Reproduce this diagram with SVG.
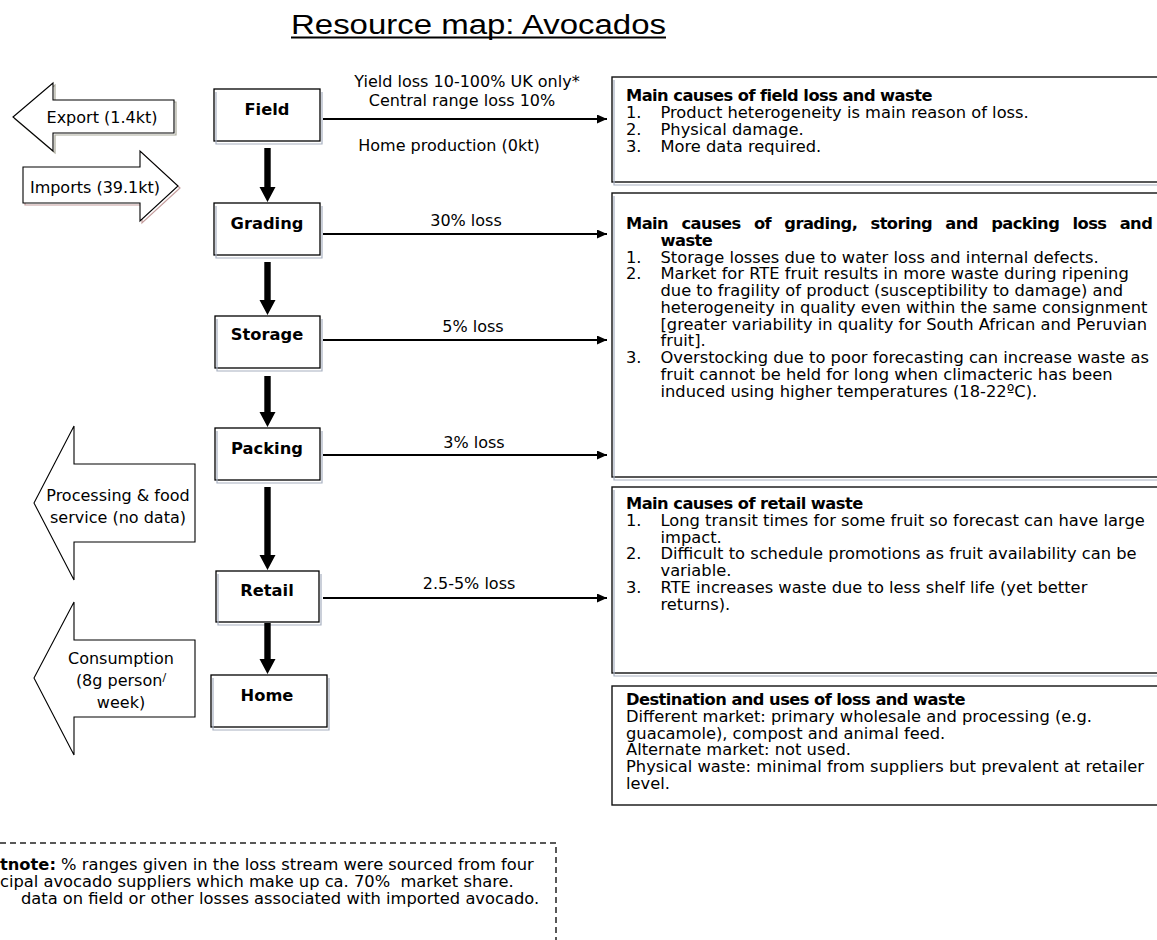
<svg xmlns="http://www.w3.org/2000/svg" width="1157" height="940" viewBox="0 0 1157 940">
  <style>
    text { font-family: "DejaVu Sans", Verdana, sans-serif; font-size: 16.3px; fill: #000; }
    .b { font-weight: bold; }
    .h { font-weight: bold; letter-spacing: -0.55px; }
    .c { text-anchor: middle; }
    .lbl { font-size: 16px; }
    .title { font-family: "Liberation Sans", Arial, sans-serif; font-size: 27px; }
    .box { fill: #fff; stroke: #000; stroke-width: 1.3; }
    .shade { fill: none; stroke: #a7b0c0; stroke-width: 1.2; }
    .panel { fill: #fff; stroke: #111; stroke-width: 1.4; }
    .flow { stroke: #000; stroke-width: 2; fill: none; marker-end: url(#head); }
    .thick { fill: #000; }
    .blk { fill: #fff; stroke: #000; stroke-width: 1.1; }
    .dash { fill: none; stroke: #222; stroke-width: 1.5; stroke-dasharray: 6 4; }
  </style>
  <defs>
    <marker id="head" markerUnits="userSpaceOnUse" markerWidth="11" markerHeight="10" refX="10" refY="4.5" orient="auto">
      <path d="M0,0 L10,4.5 L0,9 z" fill="#000"/>
    </marker>
  </defs>

  <rect width="1157" height="940" fill="#fff"/>

  <!-- title -->
  <g id="title">
    <text class="title" x="291" y="34" textLength="375" lengthAdjust="spacingAndGlyphs">Resource map: Avocados</text>
    <line x1="291" y1="37.5" x2="666" y2="37.5" stroke="#000" stroke-width="1.8"/>
  </g>

  <!-- side flows (block arrows) -->
  <g id="export">
    <polygon points="15,119 55,85 55,102 176,102 176,135 55,135 55,153" fill="none" stroke="#aaa99a" stroke-width="1.2"/>
    <polygon class="blk" points="13,117 53,83 53,100 174,100 174,133 53,133 53,151"/>
    <text class="lbl c" x="102" y="123">Export (1.4kt)</text>
  </g>
  <g id="imports">
    <polygon points="25,169 142,169 142,153 180,188 142,223 142,205 25,205" fill="none" stroke="#c49c9c" stroke-width="1.2"/>
    <polygon class="blk" points="23,167 140,167 140,151 178,186 140,221 140,203 23,203"/>
    <text class="lbl c" x="95" y="193">Imports (39.1kt)</text>
  </g>
  <g id="processing">
    <polygon class="blk" points="34,503 74,426 74,464 195,464 195,542 74,542 74,580"/>
    <text class="lbl c" x="118" y="501">Processing &amp; food</text>
    <text class="lbl c" x="118" y="523">service (no data)</text>
  </g>
  <g id="consumption">
    <polygon class="blk" points="34,678 74,602 74,640 195,640 195,717 74,717 74,755"/>
    <text class="lbl c" x="121" y="664">Consumption</text>
    <text class="lbl c" x="121" y="686">(8g person<tspan font-size="11" dy="-5">/</tspan></text>
    <text class="lbl c" x="121" y="708">week)</text>
  </g>

  <!-- chain nodes -->
  <g id="node-field">
    <rect class="box" x="214" y="89" width="106" height="52"/>
    <path class="shade" d="M216,92 V144 H322 V92"/>
    <text class="b c" x="267" y="115">Field</text>
  </g>
  <g id="node-grading">
    <rect class="box" x="214" y="203" width="106" height="52"/>
    <path class="shade" d="M216,206 V258 H322 V206"/>
    <text class="b c" x="267" y="229">Grading</text>
  </g>
  <g id="node-storage">
    <rect class="box" x="215" y="316" width="105" height="52"/>
    <path class="shade" d="M217,319 V371 H322 V319"/>
    <text class="b c" x="267" y="340">Storage</text>
  </g>
  <g id="node-packing">
    <rect class="box" x="215" y="428" width="105" height="52"/>
    <path class="shade" d="M217,431 V483 H322 V431"/>
    <text class="b c" x="267" y="454">Packing</text>
  </g>
  <g id="node-retail">
    <rect class="box" x="216" y="571" width="103" height="51"/>
    <path class="shade" d="M218,574 V625 H321 V574"/>
    <text class="b c" x="267" y="596">Retail</text>
  </g>
  <g id="node-home">
    <rect class="box" x="211" y="675" width="116" height="52"/>
    <path class="shade" d="M213,678 V730 H329 V678"/>
    <text class="b c" x="267" y="701">Home</text>
  </g>

  <!-- connectors -->
  <g id="connectors">
    <polygon class="thick" points="264.3,148 270.7,148 270.7,187 275.5,187 267.5,202 259.5,187 264.3,187"/>
    <polygon class="thick" points="264.3,262 270.7,262 270.7,300 275.5,300 267.5,315 259.5,300 264.3,300"/>
    <polygon class="thick" points="264.3,376 270.7,376 270.7,412 275.5,412 267.5,427 259.5,412 264.3,412"/>
    <polygon class="thick" points="264.3,487 270.7,487 270.7,555 275.5,555 267.5,570 259.5,555 264.3,555"/>
    <polygon class="thick" points="264.3,623 270.7,623 270.7,659 275.5,659 267.5,674 259.5,659 264.3,659"/>

    <line class="flow" x1="323" y1="119" x2="607" y2="119"/>
    <line class="flow" x1="323" y1="234" x2="607" y2="234"/>
    <line class="flow" x1="323" y1="340" x2="607" y2="340"/>
    <line class="flow" x1="323" y1="455" x2="607" y2="455"/>
    <line class="flow" x1="323" y1="598" x2="607" y2="598"/>

    <text class="lbl c" x="467" y="87">Yield loss 10-100% UK only*</text>
    <text class="lbl c" x="462" y="106">Central range loss 10%</text>
    <text class="lbl c" x="449" y="151">Home production (0kt)</text>
    <text class="lbl c" x="466" y="226">30% loss</text>
    <text class="lbl c" x="473" y="332">5% loss</text>
    <text class="lbl c" x="474" y="448">3% loss</text>
    <text class="lbl c" x="469" y="589">2.5-5% loss</text>
  </g>

  <!-- cause panels -->
  <g id="panel-field">
    <rect class="panel" x="612" y="77" width="560" height="105"/>
    <path class="shade" d="M614,80 V185 H1172"/>
    <text class="h" x="626" y="101">Main causes of field loss and waste</text>
    <text x="626" y="118">1.</text><text x="660.5" y="118">Product heterogeneity is main reason of loss.</text>
    <text x="626" y="135">2.</text><text x="660.5" y="135">Physical damage.</text>
    <text x="626" y="152">3.</text><text x="660.5" y="152">More data required.</text>
  </g>

  <g id="panel-grading">
    <rect class="panel" x="612" y="193" width="560" height="284"/>
    <path class="shade" d="M614,196 V480 H1172"/>
    <text class="h" x="626" y="229" word-spacing="8.1">Main causes of grading, storing and packing loss and</text>
    <text class="h" x="660.5" y="245.75">waste</text>
    <text x="626" y="262.5">1.</text><text x="660.5" y="262.5">Storage losses due to water loss and internal defects.</text>
    <text x="626" y="279.25">2.</text><text x="660.5" y="279.25">Market for RTE fruit results in more waste during ripening</text>
    <text x="660.5" y="296">due to fragility of product (susceptibility to damage) and</text>
    <text x="660.5" y="312.75">heterogeneity in quality even within the same consignment</text>
    <text x="660.5" y="329.5">[greater variability in quality for South African and Peruvian</text>
    <text x="660.5" y="346.25">fruit].</text>
    <text x="626" y="363">3.</text><text x="660.5" y="363">Overstocking due to poor forecasting can increase waste as</text>
    <text x="660.5" y="379.75">fruit cannot be held for long when climacteric has been</text>
    <text x="660.5" y="396.5">induced using higher temperatures (18-22ºC).</text>
  </g>

  <g id="panel-retail">
    <rect class="panel" x="612" y="487" width="560" height="186"/>
    <path class="shade" d="M614,490 V676 H1172"/>
    <text class="h" x="626" y="509">Main causes of retail waste</text>
    <text x="626" y="525.75">1.</text><text x="660.5" y="525.75">Long transit times for some fruit so forecast can have large</text>
    <text x="660.5" y="542.5">impact.</text>
    <text x="626" y="559.25">2.</text><text x="660.5" y="559.25">Difficult to schedule promotions as fruit availability can be</text>
    <text x="660.5" y="576">variable.</text>
    <text x="626" y="592.75">3.</text><text x="660.5" y="592.75">RTE increases waste due to less shelf life (yet better</text>
    <text x="660.5" y="609.5">returns).</text>
  </g>

  <g id="panel-destination">
    <rect class="panel" x="612" y="686" width="560" height="119"/>
    <text class="h" x="626" y="705">Destination and uses of loss and waste</text>
    <text x="626" y="721.75">Different market: primary wholesale and processing (e.g.</text>
    <text x="626" y="738.5">guacamole), compost and animal feed.</text>
    <text x="626" y="755.25">Alternate market: not used.</text>
    <text x="626" y="772">Physical waste: minimal from suppliers but prevalent at retailer</text>
    <text x="626" y="788.75">level.</text>
  </g>

  <!-- footnote -->
  <g id="footnote">
    <path class="dash" d="M0,843 H556 V940"/>
    <text x="0" y="870"><tspan class="b">tnote:</tspan> % ranges given in the loss stream were sourced from four</text>
    <text x="0" y="887">cipal avocado suppliers which make up ca. 70%&#160; market share.</text>
    <text x="21" y="904">data on field or other losses associated with imported avocado.</text>
  </g>
</svg>
